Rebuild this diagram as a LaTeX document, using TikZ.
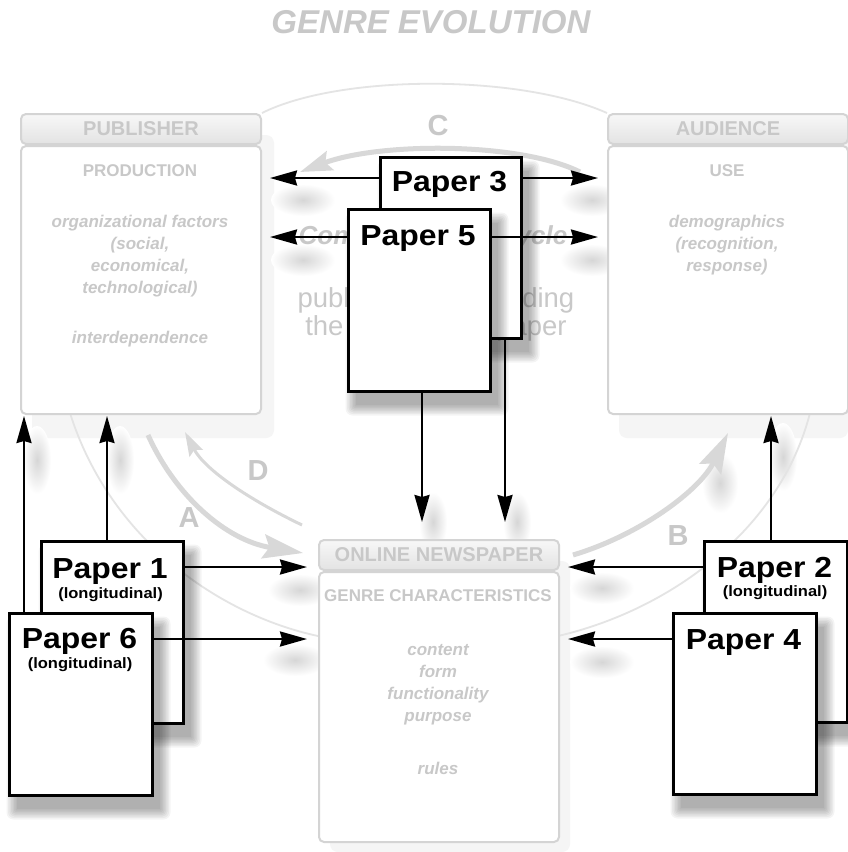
\documentclass[tikz,border=0pt]{standalone}
\usepackage{graphicx}
\usepackage{fontspec}
\setmainfont{Liberation Sans}
\setsansfont{Liberation Sans}
\usetikzlibrary{arrows.meta,calc}

\definecolor{ghost}{RGB}{200,200,200}
\definecolor{ghostline}{RGB}{212,212,212}
\definecolor{faint}{RGB}{228,228,228}
\definecolor{ghostarrow}{RGB}{216,216,216}
\definecolor{boxshade}{RGB}{245,245,245}

\newcommand{\fsz}[2]{\fontsize{#1}{#2}\selectfont}

% soft shadow under a sheet: stacked translucent rectangles, offset down-right
\newcommand{\papershadow}[4]{%
  \foreach \k in {0,...,7}{%
    \fill[black, fill opacity=0.045, rounded corners=\k pt]
      ({#1+9-\k*1.5},{#2+15-\k*1.5}) rectangle ({#3+9+\k*1.5},{#4+15+\k*1.5});
  }}

\tikzset{
  boxhead/.style={draw=ghostline, line width=2pt, rounded corners=5pt,
    top color=white!97!black, bottom color=white!89!black,
    minimum width=240pt, minimum height=30pt, inner sep=0pt,
    font=\sffamily\bfseries\fsz{20}{24}, text=ghost},
  boxbody/.style={draw=ghostline, line width=2pt, rounded corners=5pt, fill=white,
    minimum width=240pt, inner sep=0pt},
  heading/.style={font=\sffamily\bfseries\fsz{17}{22}, text=ghost, inner sep=0pt},
  detail/.style={font=\sffamily\bfseries\itshape\fsz{17}{22}, text=ghost, align=center, inner sep=0pt},
  cyclemark/.style={font=\sffamily\bfseries\fsz{29}{30}, text=ghost, inner sep=0pt},
  paper/.style={draw=black, line width=2.6pt, fill=white, inner sep=0pt, anchor=north west},
  papername/.style={font=\sffamily\bfseries\fsz{29}{30}, inner sep=0pt},
  papernote/.style={font=\sffamily\bfseries\fsz{15}{16}, inner sep=0pt},
  link/.style={line width=2.4pt, -{Stealth[length=27pt, width=15pt, inset=2pt]}},
  flow/.style={ghostarrow, line width=5pt, -{Stealth[length=40pt, width=24pt, inset=6pt]}},
  topflow/.style={ghostarrow, line width=5pt, -{Stealth[length=32pt, width=20pt, inset=5pt]}},
  backflow/.style={ghostarrow, line width=3pt, -{Stealth[length=24pt, width=15pt, inset=4pt]}},
  orbit/.style={faint, line width=1.8pt},
  smudge/.style={inner color=black!16, outer color=white},
}

\begin{document}
\begin{tikzpicture}[x=1pt, y=-1pt]
\useasboundingbox (0,0) rectangle (848,852);
\fill[white] (0,0) rectangle (848,852);

% soft shadows behind the three boxes
\fill[boxshade, rounded corners=8pt] (32,135) rectangle (274,438);
\fill[boxshade, rounded corners=8pt] (619,135) rectangle (848,438);
\fill[boxshade, rounded corners=8pt] (330,561) rectangle (570,852);

% blurred shadows cast by the arrow heads
\foreach \x/\y/\rx/\ry in {303/200/32/16, 303/260/32/16, 592/200/32/16, 592/260/32/16,
  300/590/32/16, 295/660/32/16, 602/588/32/16, 602/662/32/16,
  37/460/14/34, 120/460/14/34, 783/457/14/34, 433/522/14/30, 517/522/14/30, 720/483/18/30}
  \shade[smudge] (\x,\y) ellipse [x radius=\rx pt, y radius=\ry pt];

% thin orbit of the cycle
\draw[orbit] (262,113) .. controls (340,74) and (520,74) .. (607,113);
\draw[orbit] (70,413) .. controls (110,540) and (220,615) .. (318,636);
\draw[orbit] (810,413) .. controls (780,530) and (670,610) .. (558,636);

% title
\node[font=\sffamily\bfseries\itshape\fsz{33}{36}, text=ghost, inner sep=0pt] (title) at (431,22) {GENRE EVOLUTION};

% publisher
\node[boxhead, anchor=north west] (pubhead) at (20,113) {PUBLISHER};
\node[boxbody, anchor=north west, minimum height=268pt] (pubbody) at (20,145) {};
\node[heading] (pubrole) at (140,171) {PRODUCTION};
\node[detail] (pubfactors) at (140,256.5) {organizational factors\\(social,\\economical,\\technological)};
\node[detail] (pubdep) at (140,339) {interdependence};

% audience
\node[boxhead, anchor=north west] (audhead) at (607,113) {AUDIENCE};
\node[boxbody, anchor=north west, minimum height=268pt] (audbody) at (607,145) {};
\node[heading] (audrole) at (727,171) {USE};
\node[detail] (audfactors) at (727,244.6) {demographics\\(recognition,\\response)};

% online newspaper
\node[boxhead, anchor=north west] (nphead) at (318,539) {ONLINE NEWSPAPER};
\node[boxbody, anchor=north west, minimum height=270pt] (npbody) at (318,571) {};
\node[heading] (nprole) at (438,596) {GENRE CHARACTERISTICS};
\node[detail] (npfeat) at (438,684.6) {content\\form\\functionality\\purpose};
\node[detail] (nprules) at (438,768) {rules};

% centre of the cycle
\node[font=\sffamily\bfseries\itshape\fsz{26}{28}, text=ghost, inner sep=0pt] (cycle) at (433,238) {Communication cycle};
\node[font=\sffamily\fsz{27.5}{28}, text=ghost, align=center, inner sep=0pt] (cycletext) at (436,314) {publishing and reading\\the online newspaper};

% cycle arrows and their letters
\coordinate (cFrom) at (580,172); \coordinate (cTo) at (300,172);
\coordinate (aFrom) at (148,435); \coordinate (aTo) at (303,553);
\coordinate (dFrom) at (302,525); \coordinate (dTo) at (185,432);
\coordinate (bFrom) at (573,555); \coordinate (bTo) at (728,433);
\draw[topflow] (cFrom) .. controls (520,142) and (380,142) .. (cTo);
\draw[flow] (aFrom) .. controls (175,495) and (225,540) .. (aTo);
\draw[backflow] (dFrom) .. controls (250,500) and (205,470) .. (dTo);
\draw[flow] (bFrom) .. controls (640,535) and (700,490) .. (bTo);
\node[cyclemark] (markC) at (438,126) {C};
\node[cyclemark] (markA) at (189,518) {A};
\node[cyclemark] (markD) at (258,471) {D};
\node[cyclemark] (markB) at (678,536) {B};

% arrow tips
\coordinate (t3l) at (270,178); \coordinate (t3r) at (598,178); \coordinate (t3d) at (505,522);
\coordinate (t5l) at (270,237); \coordinate (t5r) at (598,237); \coordinate (t5d) at (422,522);
\coordinate (t1u) at (107,416); \coordinate (t1r) at (307,567);
\coordinate (t6u) at (24,416);  \coordinate (t6r) at (307,639);
\coordinate (t2u) at (771,416); \coordinate (t2l) at (568,567);
\coordinate (t4l) at (568,639);

% paper 3 and paper 5
\papershadow{379}{156}{520}{337}
\node[paper, minimum width=141pt, minimum height=181pt] (paper3) at (379,156) {};
\node[papername] (paper3name) at (449.5,184.5) {\scalebox{1.1}[1]{Paper 3}};
\draw[link] (paper3.west |- t3l) -- (t3l);
\draw[link] (paper3.east |- t3r) -- (t3r);
\draw[link] (paper3.south -| t3d) -- (t3d);

\papershadow{347}{208}{489}{390}
\node[paper, minimum width=142pt, minimum height=182pt] (paper5) at (347,208) {};
\node[papername] (paper5name) at (418,238.7) {\scalebox{1.1}[1]{Paper 5}};
\draw[link] (paper5.west |- t5l) -- (t5l);
\draw[link] (paper5.east |- t5r) -- (t5r);
\draw[link] (paper5.south -| t5d) -- (t5d);

% paper 1 and paper 6
\papershadow{40}{540}{182}{722}
\node[paper, minimum width=142pt, minimum height=182pt] (paper1) at (40,540) {};
\node[papername] (paper1name) at (110,571.7) {\scalebox{1.1}[1]{Paper 1}};
\node[papernote] (paper1note) at (110.5,595) {\scalebox{1.1}[1]{(longitudinal)}};
\draw[link] (paper1.north -| t1u) -- (t1u);
\draw[link] (paper1.east |- t1r) -- (t1r);

\papershadow{8}{612}{151}{794}
\node[paper, minimum width=143pt, minimum height=182pt] (paper6) at (8,612) {};
\node[papername] (paper6name) at (79.5,641) {\scalebox{1.1}[1]{Paper 6}};
\node[papernote] (paper6note) at (80,665) {\scalebox{1.1}[1]{(longitudinal)}};
\draw[link] (paper6.north -| t6u) -- (t6u);
\draw[link] (paper6.east |- t6r) -- (t6r);

% paper 2 and paper 4
\papershadow{703}{540}{846}{721}
\node[paper, minimum width=143pt, minimum height=181pt] (paper2) at (703,540) {};
\node[papername] (paper2name) at (774.5,570) {\scalebox{1.1}[1]{Paper 2}};
\node[papernote] (paper2note) at (775,593) {\scalebox{1.1}[1]{(longitudinal)}};
\draw[link] (paper2.north -| t2u) -- (t2u);
\draw[link] (paper2.west |- t2l) -- (t2l);

\papershadow{672}{612}{815}{793}
\node[paper, minimum width=143pt, minimum height=181pt] (paper4) at (672,612) {};
\node[papername] (paper4name) at (743.5,643) {\scalebox{1.1}[1]{Paper 4}};
\draw[link] (paper4.west |- t4l) -- (t4l);
\end{tikzpicture}
\end{document}
